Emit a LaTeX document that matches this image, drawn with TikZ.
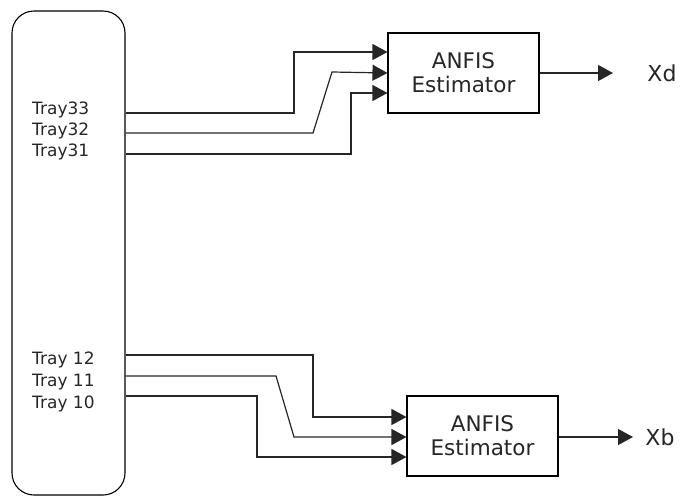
\documentclass[tikz,border=0pt]{standalone}
\usepackage{fontspec}
\setmainfont{DejaVu Sans}
\usetikzlibrary{arrows.meta}
\begin{document}
\begin{tikzpicture}[x=1pt,y=1pt,
  wire/.style={line width=1.2pt,draw=black!85},
  inarrow/.style={wire,-{Triangle[length=15pt,width=16pt]}},
  traylbl/.style={anchor=west,inner sep=0pt,font=\fontsize{17}{18}\selectfont,text=black!85},
  estbox/.style={draw,line width=1.1pt,minimum width=151pt,minimum height=80pt,align=center,font=\fontsize{21.5}{24}\selectfont,text=black!85},
  outlbl/.style={font=\fontsize{22}{24}\selectfont,text=black!85}]
\useasboundingbox (0,0) rectangle (695,-496);
% column
\node[draw,line width=1.1pt,rounded corners=22pt,minimum width=113pt,minimum height=484pt,inner sep=0pt] (col) at (68.5,-253) {};
% tray labels
\node[traylbl] (t33) at (32,-110) {Tray33};
\node[traylbl] (t32) at (32,-131) {Tray32};
\node[traylbl] (t31) at (32,-152) {Tray31};
\node[traylbl] (t12) at (32,-360) {Tray 12};
\node[traylbl] (t11) at (32,-382) {Tray 11};
\node[traylbl] (t10) at (32,-404) {Tray 10};
% estimator boxes
\node[estbox] (a1) at (463.5,-73) {ANFIS\\Estimator};
\node[estbox] (b1) at (482.5,-436) {ANFIS\\Estimator};
% outputs
\node[outlbl] (xd) at (662,-73) {Xd};
\node[outlbl] (xb) at (660,-437) {Xb};
\coordinate (od) at (613,-73);
\coordinate (ob) at (633,-437);
% wire starts
\coordinate (s33) at (col.east |- 0,-113);
\coordinate (s32) at (col.east |- 0,-133);
\coordinate (s31) at (col.east |- 0,-154);
\coordinate (s12) at (col.east |- 0,-355);
\coordinate (s11) at (col.east |- 0,-376);
\coordinate (s10) at (col.east |- 0,-396);
% top wires
\draw[inarrow] (s33) -- (294,-113) -- (294,-52) -- ([yshift=21pt]a1.west);
\draw[inarrow] (s32) -- (313,-133) -- (332,-72) -- (a1.west);
\draw[inarrow] (s31) -- (351,-154) -- (351,-93) -- ([yshift=-20pt]a1.west);
% bottom wires
\draw[inarrow] (s12) -- (313,-355) -- (313,-417) -- ([yshift=19pt]b1.west);
\draw[inarrow] (s11) -- (276,-376) -- (294,-437) -- ([yshift=-1pt]b1.west);
\draw[inarrow] (s10) -- (257,-396) -- (257,-457) -- ([yshift=-21pt]b1.west);
% outputs
\draw[inarrow] (a1.east) -- (od);
\draw[inarrow] ([yshift=-1pt]b1.east) -- (ob);
\end{tikzpicture}
\end{document}
